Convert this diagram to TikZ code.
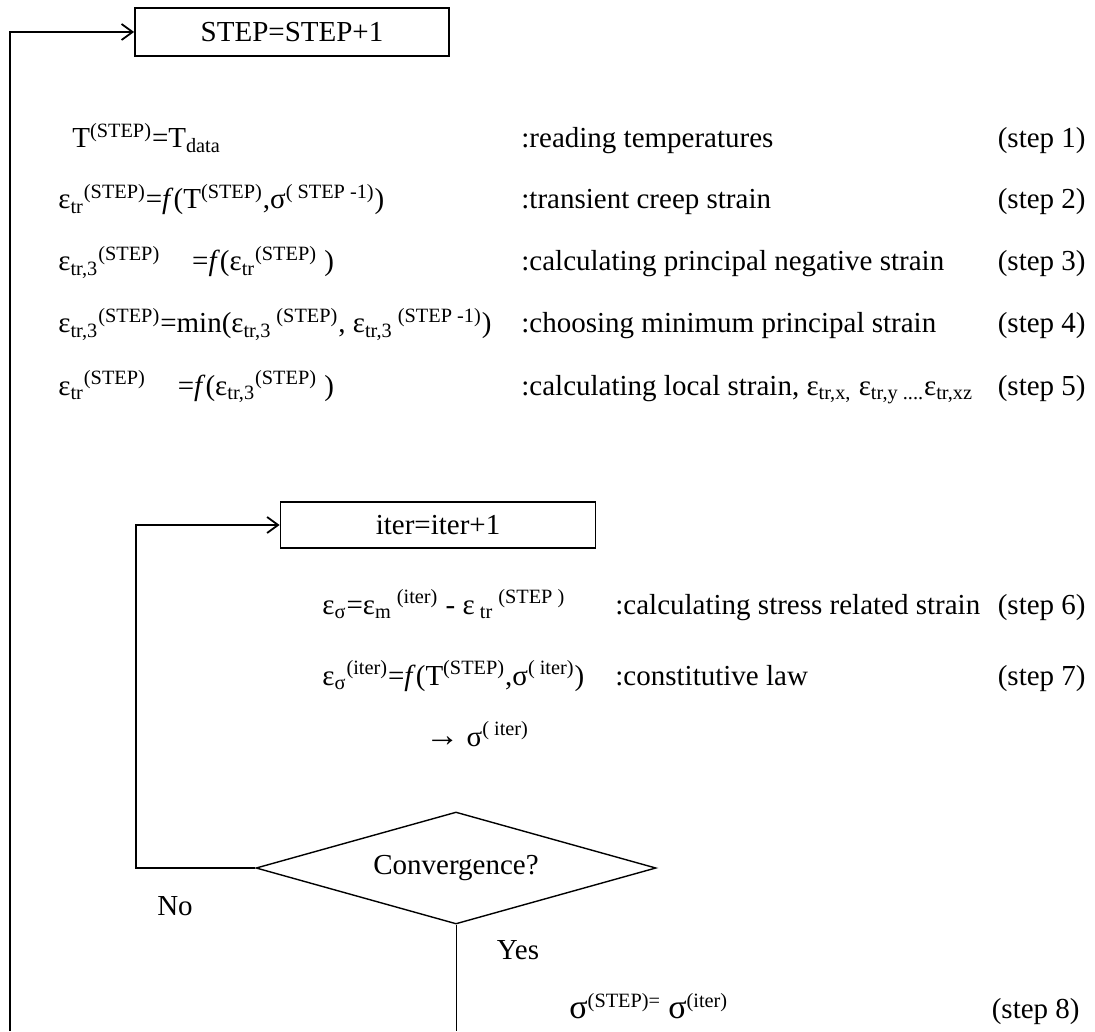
\documentclass[tikz,border=0pt]{standalone}
\usepackage{fontspec}
\setmainfont{Liberation Serif}
\usepackage{tikz}
\usetikzlibrary{arrows.meta,shapes.geometric}

\newcommand{\up}[1]{\textsuperscript{#1}}
\newcommand{\dn}[1]{\textsubscript{#1}}
\newcommand{\bigsig}{{\fontsize{17}{17}\selectfont σ}}

\begin{document}
\begin{tikzpicture}[x=0.5pt, y=-0.5pt, >={Straight Barb[length=5.5pt,width=8pt]},
    every node/.style={font=\fontsize{14.5}{17}\selectfont, inner sep=0pt},
    procbox/.style={draw, line width=0.9pt},
    decision/.style={draw, diamond, aspect=3.5, line width=0.7pt, minimum width=200pt, minimum height=56pt},
    formula/.style={anchor=base west},
    remark/.style={anchor=base west},
    stepno/.style={anchor=base east},
    loopline/.style={line width=0.9pt}]

    %% Background
    \useasboundingbox (0,0) rectangle (1095,1031);

    % Time step loop
    \node[procbox, minimum width=157pt, minimum height=24pt] (stepbox) at (292,32) {STEP=STEP+1};
    \coordinate (outerend) at (10,1031);
    \draw[loopline, ->] (outerend) |- (stepbox.west);

    % Steps 1 to 5
    \node[formula] (f1) at (72,148) {T\up{(STEP)}=T\dn{data}};
    \node[formula] (f2) at (58,209) {ε\dn{tr}\up{(STEP)}=\textit{f}(T\up{(STEP)},σ\up{( STEP -1)})};
    \node[formula] (f3) at (58,271) {ε\dn{tr,3}\up{(STEP)}\hspace{1.1em}=\textit{f}(ε\dn{tr}\up{(STEP)} )};
    \node[formula] (f4) at (58,333) {ε\dn{tr,3}\up{(STEP)}=min(ε\dn{tr,3}\up{ (STEP)}, ε\dn{tr,3}\up{ (STEP -1)})};
    \node[formula] (f5) at (58,395) {ε\dn{tr}\up{(STEP)}\hspace{1.1em}=\textit{f}(ε\dn{tr,3}\up{(STEP)} )};

    \node[remark] (r1) at (521,148) {:reading temperatures};
    \node[remark] (r2) at (521,209) {:transient creep strain};
    \node[remark] (r3) at (521,271) {:calculating principal negative strain};
    \node[remark] (r4) at (521,333) {:choosing minimum principal strain};
    \node[remark] (r5) at (521,395) {:calculating local strain, ε\dn{tr,x,} ε\dn{tr,y ....}ε\dn{tr,xz}};

    \node[stepno] (s1) at (1086,148) {(step 1)};
    \node[stepno] (s2) at (1086,209) {(step 2)};
    \node[stepno] (s3) at (1086,271) {(step 3)};
    \node[stepno] (s4) at (1086,333) {(step 4)};
    \node[stepno] (s5) at (1086,395) {(step 5)};

    % Iteration loop
    \node[procbox, minimum width=157.5pt, minimum height=23pt] (iterbox) at (438,525) {iter=iter+1};

    \node[formula] (f6) at (322,614) {ε\dn{σ}=ε\dn{m}\up{ (iter)} - ε\dn{ tr}\up{ (STEP )}};
    \node[formula] (f7) at (322,685) {ε\dn{σ}\up{(iter)}=\textit{f}(T\up{(STEP)},σ\up{( iter)})};
    \node[formula] (sig) at (425,746) {{\fontsize{17}{17}\selectfont →} σ\up{( iter)}};

    \node[remark] (r6) at (615,614) {:calculating stress related strain};
    \node[remark] (r7) at (615,685) {:constitutive law};
    \node[stepno] (s6) at (1086,614) {(step 6)};
    \node[stepno] (s7) at (1086,685) {(step 7)};

    % Convergence check
    \node[decision] (conv) at (456,868) {Convergence?};
    \coordinate (inner) at (136,868);
    \draw[loopline, ->] (conv.west) -- (inner) |- (iterbox.west);
    \node (no) at (175,906) {No};

    \coordinate (yesend) at (456,1031);
    \draw[line width=0.5pt] (conv.south) -- (yesend);
    \node (yes) at (518,950) {Yes};

    % Step 8
    \node[formula] (f8) at (569,1018) {\bigsig\up{(STEP)=} \bigsig\up{(iter)}};
    \node[stepno] (s8) at (1080,1018) {(step 8)};

\end{tikzpicture}
\end{document}
